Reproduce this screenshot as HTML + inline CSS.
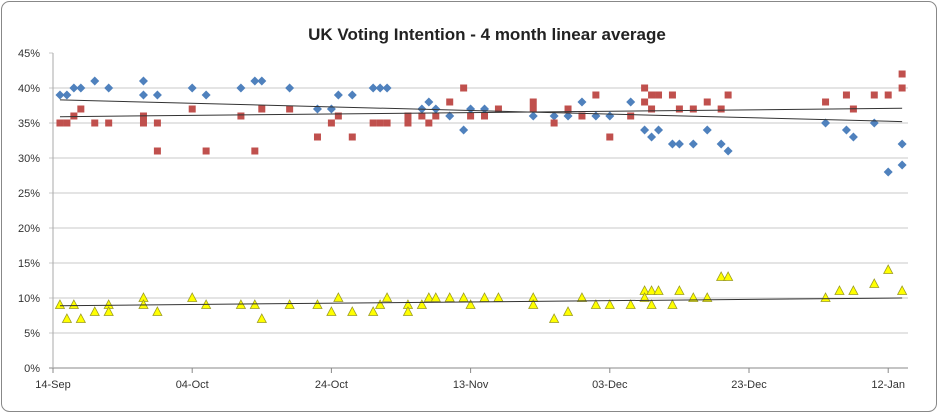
<!DOCTYPE html>
<html><head><meta charset="utf-8"><style>
body{margin:0;background:#fff;font-family:"Liberation Sans",sans-serif}
svg{display:block}
</style></head><body>
<svg id="chart" width="939" height="414">
<rect x="1.5" y="1.5" width="935" height="410" rx="8" fill="#fff" stroke="#888"/>
<text x="487" y="40" text-anchor="middle" font-size="17" font-weight="bold" fill="#222">UK Voting Intention - 4 month linear average</text>
<g id="grid"></g><g id="marks"></g>
</svg>
<script>
const yTicks=[0,5,10,15,20,25,30,35,40,45];
const xTickDays=[0,20,40,60,80,100,120];
const xTickLabels=["14-Sep","04-Oct","24-Oct","13-Nov","03-Dec","23-Dec","12-Jan"];
const conDays=[1,2,3,4,6,8,13,13,15,20,22,27,29,30,34,38,40,41,43,46,47,48,53,54,55,57,59,60,62,69,72,74,76,78,80,83,85,86,87,89,90,92,94,96,97,111,114,115,118,120,122,122];
const conVals=[39,39,40,40,41,40,41,39,39,40,39,40,41,41,40,37,37,39,39,40,40,40,37,38,37,36,34,37,37,36,36,36,38,36,36,38,34,33,34,32,32,32,34,32,31,35,34,33,35,28,32,29];
const labDays=[1,2,3,4,6,8,13,13,15,15,20,22,27,29,30,34,38,40,41,43,46,47,48,51,51,53,54,55,57,59,60,62,64,69,69,72,74,76,78,80,83,85,85,86,87,86,89,90,92,94,96,97,111,114,115,118,120,122,122];
const labVals=[35,35,36,37,35,35,36,35,35,31,37,31,36,31,37,37,33,35,36,33,35,35,35,36,35,36,35,36,38,40,36,36,37,38,37,35,37,36,39,33,36,40,38,39,39,37,39,37,37,38,37,39,38,39,37,39,39,42,40];
const ldDays=[1,2,3,4,6,8,8,13,13,15,20,22,27,29,30,34,38,40,41,43,46,47,48,51,51,53,54,55,57,59,60,62,64,69,69,72,74,76,78,80,83,85,85,86,86,87,89,90,92,94,96,97,111,113,115,118,120,122];
const ldVals=[9,7,9,7,8,9,8,10,9,8,10,9,9,9,7,9,9,8,10,8,8,9,10,9,8,9,10,10,10,10,9,10,10,10,9,7,8,10,9,9,9,11,10,11,9,11,9,11,10,10,13,13,10,11,11,12,14,11];
const trendDays=[1,122];
const conTrend=[38.3,35.2];
const labTrend=[35.9,37.1];
const ldTrend=[8.9,10.0];
const NS="http://www.w3.org/2000/svg";
const X0=53,X1=908,Y0=368,pxDay=6.96,pxPct=7;
const xs=d=>X0+d*pxDay, ys=v=>Y0-v*pxPct;
const grid=document.getElementById('grid'),marks=document.getElementById('marks');
function mk(tag,attrs,parent){const e=document.createElementNS(NS,tag);for(const k in attrs)e.setAttribute(k,attrs[k]);parent.appendChild(e);return e;}
yTicks.forEach(t=>{
 const l=mk('line',{x1:X0-4,x2:t===45?X0:X1,y1:ys(t),y2:ys(t),stroke:t===0?'#888':'#c8c8c8','stroke-width':1},grid);
 
 
 const tx=mk('text',{x:X0-13,y:ys(t)+4,'text-anchor':'end','font-size':11,fill:'#333'},grid);
 tx.textContent=t+'%';
 
 
});
const ax=mk('line',{x1:X0,x2:X0,y1:ys(45),y2:Y0,stroke:'#aaa'},grid);


xTickDays.forEach((d,i)=>{
 const l=mk('line',{x1:xs(d),x2:xs(d),y1:Y0,y2:Y0+5,stroke:'#888'},grid);
 
 
 const tx=mk('text',{x:xs(d),y:Y0+20,'text-anchor':'middle','font-size':11,fill:'#333'},grid);
 tx.textContent=xTickLabels[i];
 
 
});
function trend(vals,name){
 const l=mk('line',{x1:xs(trendDays[0]),x2:xs(trendDays[1]),y1:ys(vals[0]),y2:ys(vals[1]),stroke:'#333','stroke-width':1},marks);
 
 
}
function series(ds,vs,shape,name){
 ds.forEach((d,i)=>{
  const x=xs(d),y=ys(vs[i]);let e;
  if(shape==='diamond')e=mk('polygon',{points:`${x},${y-4.5} ${x+4.5},${y} ${x},${y+4.5} ${x-4.5},${y}`,fill:'#4f81bd'},marks);
  else if(shape==='square')e=mk('rect',{x:x-3.5,y:y-3.5,width:7,height:7,fill:'#c0504d'},marks);
  else e=mk('polygon',{points:`${x},${y-5} ${x+4.5},${y+3.5} ${x-4.5},${y+3.5}`,fill:'#ffff00',stroke:'#9a9a20','stroke-width':0.8},marks);
  
  
 });
}
series(conDays,conVals,'diamond','con-point');
series(labDays,labVals,'square','lab-point');
series(ldDays,ldVals,'triangle','libdem-point');
trend(conTrend,'con-trendline');
trend(labTrend,'lab-trendline');
trend(ldTrend,'libdem-trendline');
</script>
</body></html>
